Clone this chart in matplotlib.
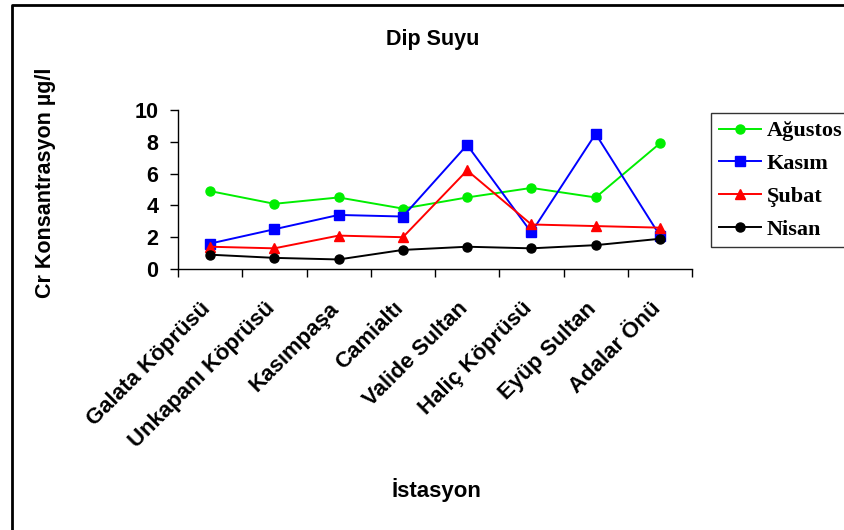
import matplotlib
matplotlib.use("Agg")
import matplotlib.pyplot as plt
from matplotlib.lines import Line2D
from matplotlib.transforms import ScaledTranslation

stations = ["Galata Köprüsü", "Unkapanı Köprüsü", "Kasımpaşa", "Camialtı",
            "Valide Sultan", "Haliç Köprüsü", "Eyüp Sultan", "Adalar Önü"]
agustos = [4.9, 4.1, 4.5, 3.8, 4.5, 5.1, 4.5, 7.9]
kasim = [1.6, 2.5, 3.4, 3.3, 7.8, 2.3, 8.5, 2.1]
subat = [1.4, 1.3, 2.1, 2.0, 6.2, 2.8, 2.7, 2.6]
nisan = [0.9, 0.7, 0.6, 1.2, 1.4, 1.3, 1.5, 1.9]
y_ticks = [0, 2, 4, 6, 8, 10]

W, H = 844, 530
fig = plt.figure(figsize=(W / 100, H / 100), dpi=100)
fig.patch.set_facecolor("white")

# frame around the chart area
fig.add_artist(Line2D([12 / W, 12 / W, 1.0], [0.0, 1 - 5 / H, 1 - 5 / H],
                      transform=fig.transFigure, color="black", lw=2.0))

ax = fig.add_axes([178 / W, 1 - 269 / H, (692 - 178) / W, (269 - 110) / H])
x = [i + 0.5 for i in range(len(stations))]

series = [
    ("Ağustos", agustos, "#00ee00", "o", 6.5),
    ("Kasım", kasim, "#0000ff", "s", 6.5),
    ("Şubat", subat, "#ff0000", "^", 7.5),
    ("Nisan", nisan, "#000000", "o", 6.5),
]
handles = []
for name, vals, col, mk, ms in series:
    h, = ax.plot(x, vals, color=col, lw=1.4, marker=mk, markersize=ms,
                 markerfacecolor=col, markeredgecolor=col, label=name)
    handles.append(h)

ax.set_xlim(0, len(stations))
ax.set_ylim(0, 10)
ax.set_yticks(y_ticks)
ax.set_yticklabels([str(v) for v in y_ticks], fontsize=15.5, fontweight="bold",
                   family="Liberation Sans")
ax.set_xticks(range(len(stations) + 1))
ax.set_xticklabels([])
ax.set_xticks(x, minor=True)
ax.set_xticklabels(stations, minor=True, rotation=45, ha="right", va="top",
                   rotation_mode="anchor", fontsize=16, fontweight="bold",
                   family="Liberation Sans")
ax.tick_params(axis="x", which="minor", length=0, pad=13)
ax.tick_params(axis="x", which="major", direction="out", length=6, width=1.0)
ax.tick_params(axis="y", direction="out", length=6, width=1.0, pad=8)
shift = ScaledTranslation(-0.10, -0.11, fig.dpi_scale_trans)
for lbl in ax.get_xticklabels(minor=True):
    lbl.set_transform(lbl.get_transform() + shift)
for s in ("top", "right"):
    ax.spines[s].set_visible(False)
for s in ("left", "bottom"):
    ax.spines[s].set_linewidth(1.0)

fig.text(433 / W, 1 - 40 / H, "Dip Suyu", ha="center", va="center",
         fontsize=15.5, fontweight="bold", family="Liberation Sans")
fig.text(436 / W, 1 - 490 / H, "İstasyon", ha="center", va="center",
         fontsize=16, fontweight="bold", family="Liberation Sans")
fig.text(46 / W, 1 - 183 / H, "Cr Konsantrasyon µg/l", ha="center", va="center",
         rotation=90, fontsize=15.5, fontweight="bold", family="Liberation Sans")

leg = fig.legend(handles=handles, loc="upper left",
                 bbox_to_anchor=(711 / W, 1 - 113 / H),
                 prop={"family": "Liberation Serif", "weight": "bold", "size": 16},
                 frameon=True, fancybox=False, edgecolor="black",
                 borderaxespad=0, borderpad=0.35, labelspacing=0.55,
                 handlelength=1.9, handletextpad=0.25)
leg.get_frame().set_linewidth(1.0)
for lh in leg.legend_handles:
    lh.set_markersize(6.5)

fig.savefig("out.png", dpi=100)
